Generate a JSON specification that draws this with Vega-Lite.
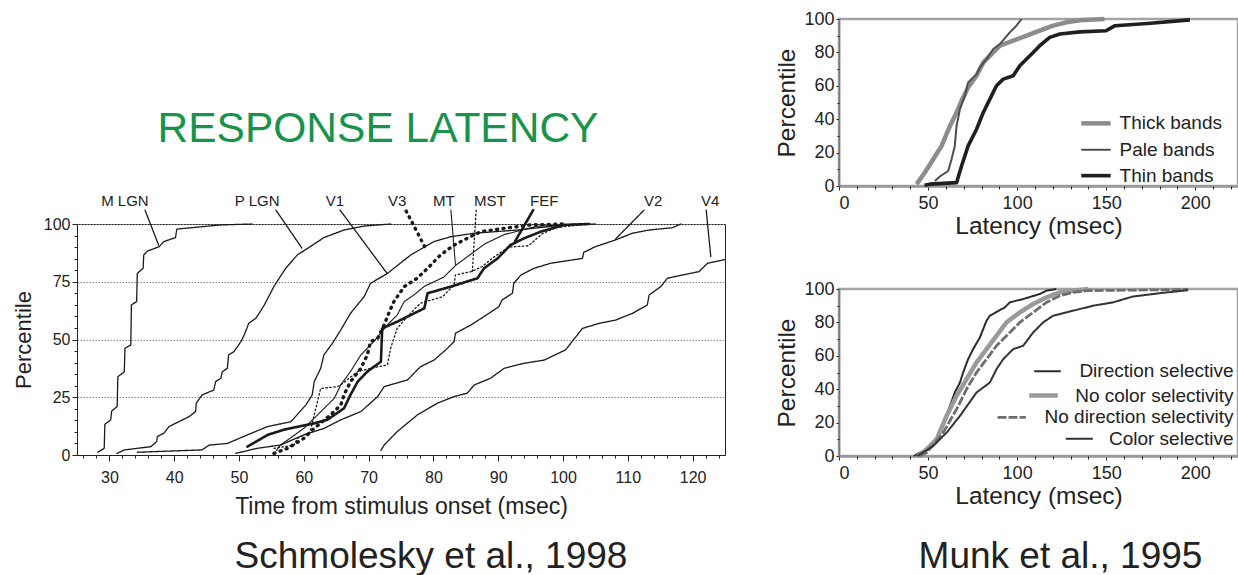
{
  "$schema": "https://vega.github.io/schema/vega-lite/v6.json",
  "background": "white",
  "padding": {"left": 11, "top": 8, "right": 0, "bottom": 0},
  "config": {
    "font": "Liberation Sans",
    "view": {"stroke": null},
    "axis": {"labelColor": "#222", "titleColor": "#222", "tickColor": "#222", "domainColor": "#222", "titleFontWeight": "normal", "labelFont": "Liberation Sans", "titleFont": "Liberation Sans"},
    "title": {"font": "Liberation Sans", "fontWeight": "normal", "color": "#222"}
  },
  "datasets": {
    "schmolesky": [
      {"area": "M LGN", "ms": 28.2, "pct": 1.2}, {"area": "M LGN", "ms": 29.2, "pct": 2.9}, {"area": "M LGN", "ms": 29.3, "pct": 13.3}, {"area": "M LGN", "ms": 30.2, "pct": 15.2}, {"area": "M LGN", "ms": 30.35, "pct": 19}, {"area": "M LGN", "ms": 31.2, "pct": 21}, {"area": "M LGN", "ms": 31.3, "pct": 33.9}, {"area": "M LGN", "ms": 32.3, "pct": 36}, {"area": "M LGN", "ms": 32.4, "pct": 46.2}, {"area": "M LGN", "ms": 33.3, "pct": 47.6}, {"area": "M LGN", "ms": 33.4, "pct": 65}, {"area": "M LGN", "ms": 34.2, "pct": 66.4}, {"area": "M LGN", "ms": 34.3, "pct": 78.6}, {"area": "M LGN", "ms": 35.2, "pct": 80.8}, {"area": "M LGN", "ms": 35.3, "pct": 86.6}, {"area": "M LGN", "ms": 35.9, "pct": 88.3}, {"area": "M LGN", "ms": 37.7, "pct": 90.2}, {"area": "M LGN", "ms": 38.4, "pct": 92.4}, {"area": "M LGN", "ms": 40.2, "pct": 94.1}, {"area": "M LGN", "ms": 40.4, "pct": 97.8}, {"area": "M LGN", "ms": 47.2, "pct": 99.6}, {"area": "M LGN", "ms": 52, "pct": 100},
      {"area": "P LGN", "ms": 31.2, "pct": 0.7}, {"area": "P LGN", "ms": 32.3, "pct": 2.2}, {"area": "P LGN", "ms": 36.4, "pct": 3.6}, {"area": "P LGN", "ms": 37.3, "pct": 5.8}, {"area": "P LGN", "ms": 37.4, "pct": 8}, {"area": "P LGN", "ms": 38.4, "pct": 9.4}, {"area": "P LGN", "ms": 39.2, "pct": 12.3}, {"area": "P LGN", "ms": 40.2, "pct": 13.7}, {"area": "P LGN", "ms": 42.3, "pct": 16.6}, {"area": "P LGN", "ms": 43.3, "pct": 18.8}, {"area": "P LGN", "ms": 43.4, "pct": 22.4}, {"area": "P LGN", "ms": 44.3, "pct": 26}, {"area": "P LGN", "ms": 46.1, "pct": 28.1}, {"area": "P LGN", "ms": 46.4, "pct": 31.8}, {"area": "P LGN", "ms": 47.2, "pct": 33.2}, {"area": "P LGN", "ms": 47.4, "pct": 36}, {"area": "P LGN", "ms": 48.2, "pct": 37.5}, {"area": "P LGN", "ms": 48.4, "pct": 43.3}, {"area": "P LGN", "ms": 49.2, "pct": 44.7}, {"area": "P LGN", "ms": 50.3, "pct": 49.1}, {"area": "P LGN", "ms": 50.8, "pct": 51.9}, {"area": "P LGN", "ms": 51.5, "pct": 57}, {"area": "P LGN", "ms": 52.6, "pct": 59.2}, {"area": "P LGN", "ms": 53.1, "pct": 61.3}, {"area": "P LGN", "ms": 53.9, "pct": 64.9}, {"area": "P LGN", "ms": 55.4, "pct": 73}, {"area": "P LGN", "ms": 57.2, "pct": 80.8}, {"area": "P LGN", "ms": 59, "pct": 86.6}, {"area": "P LGN", "ms": 61, "pct": 90.2}, {"area": "P LGN", "ms": 63.1, "pct": 94.1}, {"area": "P LGN", "ms": 66.2, "pct": 97.4}, {"area": "P LGN", "ms": 69.3, "pct": 99.1}, {"area": "P LGN", "ms": 73.4, "pct": 100},
      {"area": "V1", "ms": 34.3, "pct": 1.2}, {"area": "V1", "ms": 44.3, "pct": 2.2}, {"area": "V1", "ms": 45.4, "pct": 4.3}, {"area": "V1", "ms": 48.2, "pct": 5}, {"area": "V1", "ms": 51.3, "pct": 8.7}, {"area": "V1", "ms": 54.4, "pct": 12.3}, {"area": "V1", "ms": 58, "pct": 14.4}, {"area": "V1", "ms": 60.3, "pct": 21.6}, {"area": "V1", "ms": 61.3, "pct": 26}, {"area": "V1", "ms": 61.6, "pct": 31.7}, {"area": "V1", "ms": 62.6, "pct": 37.5}, {"area": "V1", "ms": 63.1, "pct": 43.3}, {"area": "V1", "ms": 64.4, "pct": 48.3}, {"area": "V1", "ms": 65.7, "pct": 54.1}, {"area": "V1", "ms": 67.2, "pct": 61.3}, {"area": "V1", "ms": 69.3, "pct": 68.5}, {"area": "V1", "ms": 70.3, "pct": 74.3}, {"area": "V1", "ms": 72.9, "pct": 78.6}, {"area": "V1", "ms": 76.5, "pct": 86.6}, {"area": "V1", "ms": 80.1, "pct": 92.4}, {"area": "V1", "ms": 82.7, "pct": 94.5}, {"area": "V1", "ms": 86.3, "pct": 96}, {"area": "V1", "ms": 93, "pct": 97.4}, {"area": "V1", "ms": 100.2, "pct": 99.6}, {"area": "V1", "ms": 105, "pct": 100},
      {"area": "V3", "ms": 55.4, "pct": 0.7}, {"area": "V3", "ms": 57.5, "pct": 2.9}, {"area": "V3", "ms": 60, "pct": 7.2}, {"area": "V3", "ms": 61.6, "pct": 11.5}, {"area": "V3", "ms": 64.1, "pct": 17.3}, {"area": "V3", "ms": 65.7, "pct": 21.6}, {"area": "V3", "ms": 66.2, "pct": 26}, {"area": "V3", "ms": 67.2, "pct": 31.7}, {"area": "V3", "ms": 68.8, "pct": 37.5}, {"area": "V3", "ms": 69.8, "pct": 43.3}, {"area": "V3", "ms": 70.3, "pct": 49.1}, {"area": "V3", "ms": 71.4, "pct": 50.5}, {"area": "V3", "ms": 72.4, "pct": 56.3}, {"area": "V3", "ms": 73.2, "pct": 62}, {"area": "V3", "ms": 73.9, "pct": 66.4}, {"area": "V3", "ms": 75.5, "pct": 72.9}, {"area": "V3", "ms": 77.5, "pct": 76.5}, {"area": "V3", "ms": 79.1, "pct": 80.8}, {"area": "V3", "ms": 81.1, "pct": 86.6}, {"area": "V3", "ms": 83.2, "pct": 90.9}, {"area": "V3", "ms": 85.2, "pct": 93.8}, {"area": "V3", "ms": 87.3, "pct": 96.7}, {"area": "V3", "ms": 90.9, "pct": 98.1}, {"area": "V3", "ms": 95, "pct": 99.6}, {"area": "V3", "ms": 100, "pct": 100},
      {"area": "MT", "ms": 55.8, "pct": 2}, {"area": "MT", "ms": 56.4, "pct": 4.3}, {"area": "MT", "ms": 60, "pct": 11.5}, {"area": "MT", "ms": 62.1, "pct": 17.3}, {"area": "MT", "ms": 64.7, "pct": 24.5}, {"area": "MT", "ms": 65.7, "pct": 30.3}, {"area": "MT", "ms": 67.2, "pct": 36.1}, {"area": "MT", "ms": 68.8, "pct": 43.3}, {"area": "MT", "ms": 70.8, "pct": 49.1}, {"area": "MT", "ms": 72.9, "pct": 56.3}, {"area": "MT", "ms": 74.4, "pct": 60.6}, {"area": "MT", "ms": 75.5, "pct": 66.4}, {"area": "MT", "ms": 77, "pct": 69.3}, {"area": "MT", "ms": 78.6, "pct": 73}, {"area": "MT", "ms": 81.6, "pct": 77}, {"area": "MT", "ms": 83.4, "pct": 82}, {"area": "MT", "ms": 85.8, "pct": 87}, {"area": "MT", "ms": 88, "pct": 91.5}, {"area": "MT", "ms": 91, "pct": 95.5}, {"area": "MT", "ms": 96, "pct": 99}, {"area": "MT", "ms": 102, "pct": 100},
      {"area": "MST", "ms": 55.4, "pct": 2.9}, {"area": "MST", "ms": 58.5, "pct": 4.3}, {"area": "MST", "ms": 59, "pct": 7.2}, {"area": "MST", "ms": 61, "pct": 10.1}, {"area": "MST", "ms": 61.6, "pct": 17.3}, {"area": "MST", "ms": 62.6, "pct": 28.8}, {"area": "MST", "ms": 65.2, "pct": 29.6}, {"area": "MST", "ms": 66, "pct": 31}, {"area": "MST", "ms": 68.3, "pct": 36.1}, {"area": "MST", "ms": 70.3, "pct": 37.5}, {"area": "MST", "ms": 72.9, "pct": 39}, {"area": "MST", "ms": 73.4, "pct": 46.2}, {"area": "MST", "ms": 73.9, "pct": 50.5}, {"area": "MST", "ms": 74.4, "pct": 54.8}, {"area": "MST", "ms": 76, "pct": 60}, {"area": "MST", "ms": 78, "pct": 65.7}, {"area": "MST", "ms": 81.4, "pct": 68.5}, {"area": "MST", "ms": 83.2, "pct": 73.6}, {"area": "MST", "ms": 83.4, "pct": 77.9}, {"area": "MST", "ms": 85.8, "pct": 79.4}, {"area": "MST", "ms": 87.5, "pct": 81.5}, {"area": "MST", "ms": 89, "pct": 85}, {"area": "MST", "ms": 91.6, "pct": 90}, {"area": "MST", "ms": 94.7, "pct": 90.6}, {"area": "MST", "ms": 96.8, "pct": 95.8}, {"area": "MST", "ms": 99, "pct": 98.5}, {"area": "MST", "ms": 104, "pct": 100},
      {"area": "FEF", "ms": 51.3, "pct": 3.6}, {"area": "FEF", "ms": 54.4, "pct": 8.7}, {"area": "FEF", "ms": 57, "pct": 11}, {"area": "FEF", "ms": 61.6, "pct": 13.7}, {"area": "FEF", "ms": 63.6, "pct": 15.2}, {"area": "FEF", "ms": 66.2, "pct": 20.2}, {"area": "FEF", "ms": 67.2, "pct": 26}, {"area": "FEF", "ms": 68.3, "pct": 31.7}, {"area": "FEF", "ms": 69.8, "pct": 36.1}, {"area": "FEF", "ms": 71.9, "pct": 40.4}, {"area": "FEF", "ms": 72.1, "pct": 54.8}, {"area": "FEF", "ms": 74.4, "pct": 57.7}, {"area": "FEF", "ms": 76.5, "pct": 60.6}, {"area": "FEF", "ms": 78.6, "pct": 63.5}, {"area": "FEF", "ms": 79.1, "pct": 70}, {"area": "FEF", "ms": 82.7, "pct": 72.9}, {"area": "FEF", "ms": 86.8, "pct": 76.5}, {"area": "FEF", "ms": 87.8, "pct": 80.8}, {"area": "FEF", "ms": 89.9, "pct": 85.1}, {"area": "FEF", "ms": 91.9, "pct": 90.9}, {"area": "FEF", "ms": 94, "pct": 93.8}, {"area": "FEF", "ms": 96.6, "pct": 96.7}, {"area": "FEF", "ms": 100.2, "pct": 99.6}, {"area": "FEF", "ms": 104, "pct": 100},
      {"area": "V2", "ms": 49.5, "pct": 0.7}, {"area": "V2", "ms": 52.8, "pct": 2.9}, {"area": "V2", "ms": 56.4, "pct": 4.3}, {"area": "V2", "ms": 60, "pct": 8.7}, {"area": "V2", "ms": 63.1, "pct": 11.5}, {"area": "V2", "ms": 65.7, "pct": 15.2}, {"area": "V2", "ms": 68.8, "pct": 18.8}, {"area": "V2", "ms": 71.4, "pct": 25.3}, {"area": "V2", "ms": 72.4, "pct": 29.6}, {"area": "V2", "ms": 76, "pct": 32.5}, {"area": "V2", "ms": 78, "pct": 38.2}, {"area": "V2", "ms": 80.1, "pct": 41.1}, {"area": "V2", "ms": 81.9, "pct": 45.5}, {"area": "V2", "ms": 83.2, "pct": 49.1}, {"area": "V2", "ms": 83.4, "pct": 52.7}, {"area": "V2", "ms": 85.8, "pct": 56.3}, {"area": "V2", "ms": 87.8, "pct": 59.9}, {"area": "V2", "ms": 90.1, "pct": 64.2}, {"area": "V2", "ms": 90.6, "pct": 67.1}, {"area": "V2", "ms": 92.2, "pct": 70}, {"area": "V2", "ms": 92.4, "pct": 74.3}, {"area": "V2", "ms": 93.5, "pct": 77.9}, {"area": "V2", "ms": 95.5, "pct": 80.8}, {"area": "V2", "ms": 98.1, "pct": 83}, {"area": "V2", "ms": 103, "pct": 85.1}, {"area": "V2", "ms": 103.2, "pct": 87.7}, {"area": "V2", "ms": 105, "pct": 90.2}, {"area": "V2", "ms": 108.1, "pct": 93.1}, {"area": "V2", "ms": 110.7, "pct": 96}, {"area": "V2", "ms": 113.3, "pct": 97.4}, {"area": "V2", "ms": 116.9, "pct": 98.4}, {"area": "V2", "ms": 118.2, "pct": 100},
      {"area": "V4", "ms": 71.9, "pct": 2}, {"area": "V4", "ms": 72.4, "pct": 4.3}, {"area": "V4", "ms": 74.4, "pct": 10.1}, {"area": "V4", "ms": 77.5, "pct": 17.3}, {"area": "V4", "ms": 80.6, "pct": 22.4}, {"area": "V4", "ms": 83.2, "pct": 25.3}, {"area": "V4", "ms": 85.2, "pct": 26.7}, {"area": "V4", "ms": 86.3, "pct": 30.3}, {"area": "V4", "ms": 88.8, "pct": 33.2}, {"area": "V4", "ms": 90.9, "pct": 37.5}, {"area": "V4", "ms": 94, "pct": 39.7}, {"area": "V4", "ms": 97.1, "pct": 41.1}, {"area": "V4", "ms": 100.4, "pct": 45.5}, {"area": "V4", "ms": 103, "pct": 54.8}, {"area": "V4", "ms": 105.6, "pct": 57}, {"area": "V4", "ms": 108.1, "pct": 58.4}, {"area": "V4", "ms": 110.7, "pct": 61.3}, {"area": "V4", "ms": 113, "pct": 64.9}, {"area": "V4", "ms": 113.3, "pct": 69.3}, {"area": "V4", "ms": 115.1, "pct": 72.9}, {"area": "V4", "ms": 116.1, "pct": 76.5}, {"area": "V4", "ms": 118.4, "pct": 77.9}, {"area": "V4", "ms": 121, "pct": 79.4}, {"area": "V4", "ms": 122.3, "pct": 83}, {"area": "V4", "ms": 125, "pct": 84.6}
    ],
    "schmoleskyNotes": [
      {"area": "M LGN", "lx": 32.4, "ly": 110, "ms": 35.5, "pct": 106, "ms2": 37.6, "pct2": 90.8},
      {"area": "P LGN", "lx": 52.8, "ly": 110, "ms": 55.7, "pct": 106, "ms2": 59.7, "pct2": 89.6},
      {"area": "V1", "lx": 64.8, "ly": 110, "ms": 65.6, "pct": 106, "ms2": 72.8, "pct2": 78.8},
      {"area": "V3", "lx": 74.4, "ly": 110, "ms": 75.8, "pct": 105.6, "ms2": 79, "pct2": 88.3},
      {"area": "MT", "lx": 81.6, "ly": 110, "ms": 82.7, "pct": 106, "ms2": 83.4, "pct2": 82.5},
      {"area": "MST", "lx": 88.7, "ly": 110, "ms": 86.6, "pct": 106, "ms2": 86, "pct2": 79.2},
      {"area": "FEF", "lx": 97.1, "ly": 110, "ms": 95.4, "pct": 106, "ms2": 92.6, "pct2": 92.5},
      {"area": "V2", "lx": 113.9, "ly": 110, "ms": 112.5, "pct": 106, "ms2": 108.1, "pct2": 93.5},
      {"area": "V4", "lx": 122.7, "ly": 110, "ms": 122.1, "pct": 106, "ms2": 122.8, "pct2": 86}
    ],
    "munkBands": [
      {"series": "Thick bands", "ms": 43.6, "pct": 1.1}, {"series": "Thick bands", "ms": 48.2, "pct": 8.1}, {"series": "Thick bands", "ms": 52.9, "pct": 16}, {"series": "Thick bands", "ms": 57.6, "pct": 24}, {"series": "Thick bands", "ms": 62.3, "pct": 36}, {"series": "Thick bands", "ms": 66, "pct": 44}, {"series": "Thick bands", "ms": 68.8, "pct": 51}, {"series": "Thick bands", "ms": 72.5, "pct": 59}, {"series": "Thick bands", "ms": 77.2, "pct": 66}, {"series": "Thick bands", "ms": 81, "pct": 74}, {"series": "Thick bands", "ms": 86.6, "pct": 80}, {"series": "Thick bands", "ms": 90.3, "pct": 84}, {"series": "Thick bands", "ms": 97.8, "pct": 87}, {"series": "Thick bands", "ms": 105.3, "pct": 90}, {"series": "Thick bands", "ms": 112.7, "pct": 93}, {"series": "Thick bands", "ms": 120.2, "pct": 96}, {"series": "Thick bands", "ms": 127.7, "pct": 98}, {"series": "Thick bands", "ms": 135.2, "pct": 99.2}, {"series": "Thick bands", "ms": 149, "pct": 100},
      {"series": "Pale bands", "ms": 53.8, "pct": 3}, {"series": "Pale bands", "ms": 57, "pct": 6}, {"series": "Pale bands", "ms": 61.3, "pct": 9}, {"series": "Pale bands", "ms": 63.2, "pct": 16}, {"series": "Pale bands", "ms": 65, "pct": 24}, {"series": "Pale bands", "ms": 66, "pct": 36}, {"series": "Pale bands", "ms": 67.9, "pct": 46}, {"series": "Pale bands", "ms": 70.7, "pct": 54}, {"series": "Pale bands", "ms": 72.5, "pct": 62}, {"series": "Pale bands", "ms": 77.2, "pct": 67}, {"series": "Pale bands", "ms": 79.1, "pct": 71}, {"series": "Pale bands", "ms": 82.8, "pct": 76}, {"series": "Pale bands", "ms": 86.6, "pct": 82}, {"series": "Pale bands", "ms": 90.3, "pct": 85}, {"series": "Pale bands", "ms": 95.9, "pct": 92}, {"series": "Pale bands", "ms": 99.6, "pct": 96}, {"series": "Pale bands", "ms": 102.5, "pct": 100},
      {"series": "Thin bands", "ms": 48, "pct": 0.5}, {"series": "Thin bands", "ms": 51, "pct": 1.1}, {"series": "Thin bands", "ms": 66, "pct": 2}, {"series": "Thin bands", "ms": 68.8, "pct": 12}, {"series": "Thin bands", "ms": 72.5, "pct": 24}, {"series": "Thin bands", "ms": 77.2, "pct": 34}, {"series": "Thin bands", "ms": 81, "pct": 44}, {"series": "Thin bands", "ms": 84.7, "pct": 52}, {"series": "Thin bands", "ms": 88.4, "pct": 60}, {"series": "Thin bands", "ms": 92.2, "pct": 64}, {"series": "Thin bands", "ms": 97.8, "pct": 66}, {"series": "Thin bands", "ms": 101.5, "pct": 72}, {"series": "Thin bands", "ms": 105.3, "pct": 76}, {"series": "Thin bands", "ms": 109, "pct": 80}, {"series": "Thin bands", "ms": 112.7, "pct": 84}, {"series": "Thin bands", "ms": 118.3, "pct": 89}, {"series": "Thin bands", "ms": 124, "pct": 91}, {"series": "Thin bands", "ms": 135.2, "pct": 92.3}, {"series": "Thin bands", "ms": 150, "pct": 93}, {"series": "Thin bands", "ms": 155, "pct": 96}, {"series": "Thin bands", "ms": 175, "pct": 97.5}, {"series": "Thin bands", "ms": 197, "pct": 99.5}
    ],
    "munkBandsKey": [
      {"series": "Thick bands", "ms": 136, "ms2": 152.5, "pct": 37.5, "tx": 157.5},
      {"series": "Pale bands", "ms": 136, "ms2": 152.5, "pct": 21.7, "tx": 157.5},
      {"series": "Thin bands", "ms": 136, "ms2": 152.5, "pct": 6.2, "tx": 157.5}
    ],
    "munkSel": [
      {"series": "Direction selective", "ms": 42, "pct": 0}, {"series": "Direction selective", "ms": 43.6, "pct": 1}, {"series": "Direction selective", "ms": 51, "pct": 5}, {"series": "Direction selective", "ms": 56.7, "pct": 14}, {"series": "Direction selective", "ms": 61.3, "pct": 27}, {"series": "Direction selective", "ms": 65, "pct": 38}, {"series": "Direction selective", "ms": 67.9, "pct": 44}, {"series": "Direction selective", "ms": 69.7, "pct": 50}, {"series": "Direction selective", "ms": 72.5, "pct": 58}, {"series": "Direction selective", "ms": 75.3, "pct": 64}, {"series": "Direction selective", "ms": 79.1, "pct": 71}, {"series": "Direction selective", "ms": 82.8, "pct": 81}, {"series": "Direction selective", "ms": 84.7, "pct": 84}, {"series": "Direction selective", "ms": 93.1, "pct": 89}, {"series": "Direction selective", "ms": 95.9, "pct": 92}, {"series": "Direction selective", "ms": 103.4, "pct": 94}, {"series": "Direction selective", "ms": 112.7, "pct": 97}, {"series": "Direction selective", "ms": 116.5, "pct": 99}, {"series": "Direction selective", "ms": 122, "pct": 100},
      {"series": "No color selectivity", "ms": 44, "pct": 0}, {"series": "No color selectivity", "ms": 47.3, "pct": 2}, {"series": "No color selectivity", "ms": 54.8, "pct": 10}, {"series": "No color selectivity", "ms": 60.4, "pct": 24}, {"series": "No color selectivity", "ms": 66, "pct": 36}, {"series": "No color selectivity", "ms": 71.6, "pct": 46}, {"series": "No color selectivity", "ms": 77.2, "pct": 56}, {"series": "No color selectivity", "ms": 82.8, "pct": 64}, {"series": "No color selectivity", "ms": 88.4, "pct": 72}, {"series": "No color selectivity", "ms": 94, "pct": 80}, {"series": "No color selectivity", "ms": 101.5, "pct": 86}, {"series": "No color selectivity", "ms": 109, "pct": 91}, {"series": "No color selectivity", "ms": 116.5, "pct": 95}, {"series": "No color selectivity", "ms": 124, "pct": 98}, {"series": "No color selectivity", "ms": 131.4, "pct": 99}, {"series": "No color selectivity", "ms": 140, "pct": 100},
      {"series": "No direction selectivity", "ms": 45, "pct": 0}, {"series": "No direction selectivity", "ms": 49.2, "pct": 2}, {"series": "No direction selectivity", "ms": 58.5, "pct": 14}, {"series": "No direction selectivity", "ms": 66, "pct": 28}, {"series": "No direction selectivity", "ms": 71.6, "pct": 40}, {"series": "No direction selectivity", "ms": 77.2, "pct": 50}, {"series": "No direction selectivity", "ms": 82.8, "pct": 58}, {"series": "No direction selectivity", "ms": 88.4, "pct": 66}, {"series": "No direction selectivity", "ms": 95.9, "pct": 74}, {"series": "No direction selectivity", "ms": 101.5, "pct": 80}, {"series": "No direction selectivity", "ms": 109, "pct": 86}, {"series": "No direction selectivity", "ms": 116.5, "pct": 92}, {"series": "No direction selectivity", "ms": 124, "pct": 96}, {"series": "No direction selectivity", "ms": 131.4, "pct": 98}, {"series": "No direction selectivity", "ms": 138.9, "pct": 99}, {"series": "No direction selectivity", "ms": 196, "pct": 99.7},
      {"series": "Color selective", "ms": 44, "pct": 0}, {"series": "Color selective", "ms": 45.4, "pct": 1}, {"series": "Color selective", "ms": 52.9, "pct": 6}, {"series": "Color selective", "ms": 60.4, "pct": 14}, {"series": "Color selective", "ms": 67.9, "pct": 24}, {"series": "Color selective", "ms": 77.2, "pct": 38}, {"series": "Color selective", "ms": 84.7, "pct": 44}, {"series": "Color selective", "ms": 88.4, "pct": 52}, {"series": "Color selective", "ms": 92.2, "pct": 58}, {"series": "Color selective", "ms": 97.8, "pct": 64}, {"series": "Color selective", "ms": 103.4, "pct": 66}, {"series": "Color selective", "ms": 109, "pct": 74}, {"series": "Color selective", "ms": 114.6, "pct": 80}, {"series": "Color selective", "ms": 120.2, "pct": 84}, {"series": "Color selective", "ms": 127.7, "pct": 86}, {"series": "Color selective", "ms": 135.2, "pct": 88}, {"series": "Color selective", "ms": 142.6, "pct": 90}, {"series": "Color selective", "ms": 153.9, "pct": 92}, {"series": "Color selective", "ms": 165, "pct": 95.5}, {"series": "Color selective", "ms": 180, "pct": 97.5}, {"series": "Color selective", "ms": 196, "pct": 99.3}
    ],
    "munkSelKey": [
      {"series": "Direction selective", "ms": 109.6, "ms2": 124.5, "pct": 50.7, "tx": 221.5},
      {"series": "No color selectivity", "ms": 106.8, "ms2": 122.8, "pct": 36.2, "tx": 221.5},
      {"series": "No direction selectivity", "ms": 89, "ms2": 104.9, "pct": 23.1, "tx": 221.5},
      {"series": "Color selective", "ms": 127.3, "ms2": 142.5, "pct": 10.3, "tx": 221.5}
    ]
  },
  "resolve": {"scale": {"stroke": "independent", "strokeWidth": "independent", "strokeDash": "independent"}},
  "hconcat": [
    {
      "title": {"text": "Schmolesky et al., 1998", "orient": "bottom", "fontSize": 37, "offset": 20, "dx": 62, "anchor": "middle", "color": "#222"},
      "bounds": "flush",
      "spacing": 204,
      "vconcat": [
        {
          "width": 648,
          "height": 1,
          "data": {"values": [{}]},
          "mark": {"type": "point", "opacity": 0},
          "encoding": {}
        },
        {
          "width": 648,
          "height": 231,
          "title": {"text": "RESPONSE LATENCY", "color": "#17934b", "fontSize": 42.5, "anchor": "middle", "frame": "group", "dx": -23, "offset": 9, "baseline": "alphabetic"},
          "view": {"stroke": "#222", "strokeWidth": 1},
          "resolve": {"axis": {"x": "independent", "y": "independent"}},
          "layer": [
            {
              "data": {"name": "schmolesky"},
              "mark": {"type": "line", "color": "#1a1a1a", "strokeCap": "round", "strokeJoin": "round"},
              "encoding": {
                "x": {"field": "ms", "type": "quantitative", "scale": {"domain": [25, 125], "nice": false, "zero": false},
                  "axis": {"orient": "bottom", "values": [30, 40, 50, 60, 70, 80, 90, 100, 110, 120], "tickSize": 6, "labelFontSize": 16, "labelPadding": 8, "title": "Time from stimulus onset (msec)", "titleFontSize": 23, "titlePadding": 10, "grid": false, "domainColor": "#222"}},
                "y": {"field": "pct", "type": "quantitative", "scale": {"domain": [0, 100], "nice": false},
                  "axis": {"orient": "left", "values": [0, 25, 50, 75, 100], "tickSize": 5, "labelFontSize": 16, "labelPadding": 2, "title": "Percentile", "titleFontSize": 22, "titlePadding": 8, "grid": true, "gridDash": [1.5, 1.5], "gridColor": "#888", "gridWidth": 1}},
                "detail": {"field": "area"},
                "strokeWidth": {"field": "area", "type": "nominal", "legend": null,
                  "scale": {"type": "ordinal", "domain": ["M LGN", "P LGN", "V1", "V3", "MT", "MST", "FEF", "V2", "V4"], "range": [1.3, 1.3, 1.3, 3.4, 1.1, 1.3, 2.6, 1.3, 1.3]}},
                "strokeDash": {"field": "area", "type": "nominal", "legend": null,
                  "scale": {"type": "ordinal", "domain": ["M LGN", "P LGN", "V1", "V3", "MT", "MST", "FEF", "V2", "V4"], "range": [[1, 0], [1, 0], [1, 0], [1, 5.5], [1, 0], [1.5, 2.5], [1, 0], [1, 0], [1, 0]]}}
              }
            },
            {
              "data": {"name": "schmoleskyNotes"},
              "mark": {"type": "rule", "color": "#1a1a1a", "strokeCap": "round"},
              "encoding": {
                "x": {"field": "ms", "type": "quantitative",
                  "axis": {"orient": "bottom", "values": [26, 28, 32, 34, 36, 38, 42, 44, 46, 48, 52, 54, 56, 58, 62, 64, 66, 68, 72, 74, 76, 78, 82, 84, 86, 88, 92, 94, 96, 98, 102, 104, 106, 108, 112, 114, 116, 118, 122, 124], "labels": false, "domain": false, "tickSize": 3, "title": null, "grid": false}},
                "x2": {"field": "ms2"},
                "y": {"field": "pct", "type": "quantitative",
                  "axis": {"orient": "left", "values": [5, 10, 15, 20, 30, 35, 40, 45, 55, 60, 65, 70, 80, 85, 90, 95], "labels": false, "domain": false, "tickSize": 3, "title": null, "grid": false}},
                "y2": {"field": "pct2"},
                "strokeWidth": {"field": "area", "type": "nominal", "legend": null,
                  "scale": {"type": "ordinal", "domain": ["M LGN", "P LGN", "V1", "V3", "MT", "MST", "FEF", "V2", "V4"], "range": [1.3, 1.3, 1.3, 3.4, 1.1, 1.3, 2.6, 1.3, 1.3]}},
                "strokeDash": {"field": "area", "type": "nominal", "legend": null,
                  "scale": {"type": "ordinal", "domain": ["M LGN", "P LGN", "V1", "V3", "MT", "MST", "FEF", "V2", "V4"], "range": [[1, 0], [1, 0], [1, 0], [1, 5.5], [1, 0], [1.5, 2.5], [1, 0], [1, 0], [1, 0]]}}
              }
            },
            {
              "data": {"name": "schmoleskyNotes"},
              "mark": {"type": "text", "fontSize": 15, "color": "#222", "baseline": "middle"},
              "encoding": {
                "x": {"field": "lx", "type": "quantitative", "axis": null},
                "y": {"field": "ly", "type": "quantitative", "axis": null},
                "text": {"field": "area"}
              }
            }
          ]
        }
      ]
    },
    {
      "title": {"text": "Munk et al., 1995", "orient": "bottom", "fontSize": 37, "offset": 30, "dx": 54, "anchor": "middle", "color": "#222"},
      "bounds": "flush",
      "spacing": 103,
      "resolve": {"scale": {"stroke": "independent", "strokeWidth": "independent", "strokeDash": "independent"}},
      "vconcat": [
        {
          "width": 399,
          "height": 167,
          "view": {"stroke": "#a3a3a3", "strokeWidth": 2.5},
          "resolve": {"axis": {"x": "independent", "y": "independent"}},
          "layer": [
            {
              "data": {"name": "munkBands"},
              "mark": {"type": "line", "strokeJoin": "round"},
              "encoding": {
                "x": {"field": "ms", "type": "quantitative", "scale": {"domain": [0, 224], "nice": false},
                  "axis": {"orient": "bottom", "values": [0, 50, 100, 150, 200], "tickSize": 4, "labelFontSize": 18, "labelPadding": 4, "title": "Latency (msec)", "titleFontSize": 24.5, "titlePadding": 2, "grid": false, "domainColor": "#999", "domainWidth": 2.5}},
                "y": {"field": "pct", "type": "quantitative", "scale": {"domain": [0, 100], "nice": false},
                  "axis": {"orient": "left", "values": [0, 20, 40, 60, 80, 100], "tickSize": 3, "labelFontSize": 18, "labelPadding": 2, "title": "Percentile", "titleFontSize": 24.5, "titlePadding": 4, "grid": false, "domainColor": "#777", "domainWidth": 1.5}},
                "stroke": {"field": "series", "type": "nominal", "legend": null,
                  "scale": {"type": "ordinal", "domain": ["Thick bands", "Pale bands", "Thin bands"], "range": ["#8c8c8c", "#4d4d4d", "#1f1f1f"]}},
                "strokeWidth": {"field": "series", "type": "nominal", "legend": null,
                  "scale": {"type": "ordinal", "domain": ["Thick bands", "Pale bands", "Thin bands"], "range": [4.5, 2, 3.6]}}
              }
            },
            {
              "data": {"name": "munkBandsKey"},
              "mark": {"type": "rule"},
              "encoding": {
                "x": {"field": "ms", "type": "quantitative",
                  "axis": {"orient": "bottom", "values": [10, 20, 30, 40, 60, 70, 80, 90, 110, 120, 130, 140, 160, 170, 180, 190, 210, 220], "labels": false, "domain": false, "tickSize": 3, "title": null, "grid": false}},
                "x2": {"field": "ms2"},
                "y": {"field": "pct", "type": "quantitative",
                  "axis": {"orient": "left", "values": [10, 30, 50, 70, 90], "labels": false, "domain": false, "tickSize": 2, "title": null, "grid": false}},
                "stroke": {"field": "series", "type": "nominal", "legend": null,
                  "scale": {"type": "ordinal", "domain": ["Thick bands", "Pale bands", "Thin bands"], "range": ["#8c8c8c", "#4d4d4d", "#1f1f1f"]}},
                "strokeWidth": {"field": "series", "type": "nominal", "legend": null,
                  "scale": {"type": "ordinal", "domain": ["Thick bands", "Pale bands", "Thin bands"], "range": [4.5, 2, 3.6]}}
              }
            },
            {
              "data": {"name": "munkBandsKey"},
              "mark": {"type": "text", "fontSize": 19, "align": "left", "baseline": "middle", "color": "#222"},
              "encoding": {
                "x": {"field": "tx", "type": "quantitative", "axis": null},
                "y": {"field": "pct", "type": "quantitative", "axis": null},
                "text": {"field": "series"}
              }
            }
          ]
        },
        {
          "width": 399,
          "height": 167,
          "view": {"stroke": "#a3a3a3", "strokeWidth": 2.5},
          "resolve": {"axis": {"x": "independent", "y": "independent"}},
          "layer": [
            {
              "data": {"name": "munkSel"},
              "mark": {"type": "line", "strokeJoin": "round"},
              "encoding": {
                "x": {"field": "ms", "type": "quantitative", "scale": {"domain": [0, 224], "nice": false},
                  "axis": {"orient": "bottom", "values": [0, 50, 100, 150, 200], "tickSize": 4, "labelFontSize": 18, "labelPadding": 4, "title": "Latency (msec)", "titleFontSize": 24.5, "titlePadding": 2, "grid": false, "domainColor": "#999", "domainWidth": 2.5}},
                "y": {"field": "pct", "type": "quantitative", "scale": {"domain": [0, 100], "nice": false},
                  "axis": {"orient": "left", "values": [0, 20, 40, 60, 80, 100], "tickSize": 3, "labelFontSize": 18, "labelPadding": 2, "title": "Percentile", "titleFontSize": 24.5, "titlePadding": 4, "grid": false, "domainColor": "#777", "domainWidth": 1.5}},
                "stroke": {"field": "series", "type": "nominal", "legend": null,
                  "scale": {"type": "ordinal", "domain": ["Direction selective", "No color selectivity", "No direction selectivity", "Color selective"], "range": ["#2a2a2a", "#9a9a9a", "#6e6e6e", "#333333"]}},
                "strokeWidth": {"field": "series", "type": "nominal", "legend": null,
                  "scale": {"type": "ordinal", "domain": ["Direction selective", "No color selectivity", "No direction selectivity", "Color selective"], "range": [2, 4.5, 2.8, 2]}},
                "strokeDash": {"field": "series", "type": "nominal", "legend": null,
                  "scale": {"type": "ordinal", "domain": ["Direction selective", "No color selectivity", "No direction selectivity", "Color selective"], "range": [[1, 0], [1, 0], [9, 2], [1, 0]]}}
              }
            },
            {
              "data": {"name": "munkSelKey"},
              "mark": {"type": "rule"},
              "encoding": {
                "x": {"field": "ms", "type": "quantitative",
                  "axis": {"orient": "bottom", "values": [10, 20, 30, 40, 60, 70, 80, 90, 110, 120, 130, 140, 160, 170, 180, 190, 210, 220], "labels": false, "domain": false, "tickSize": 3, "title": null, "grid": false}},
                "x2": {"field": "ms2"},
                "y": {"field": "pct", "type": "quantitative",
                  "axis": {"orient": "left", "values": [10, 30, 50, 70, 90], "labels": false, "domain": false, "tickSize": 2, "title": null, "grid": false}},
                "stroke": {"field": "series", "type": "nominal", "legend": null,
                  "scale": {"type": "ordinal", "domain": ["Direction selective", "No color selectivity", "No direction selectivity", "Color selective"], "range": ["#2a2a2a", "#9a9a9a", "#6e6e6e", "#333333"]}},
                "strokeWidth": {"field": "series", "type": "nominal", "legend": null,
                  "scale": {"type": "ordinal", "domain": ["Direction selective", "No color selectivity", "No direction selectivity", "Color selective"], "range": [2, 4.5, 2.8, 2]}},
                "strokeDash": {"field": "series", "type": "nominal", "legend": null,
                  "scale": {"type": "ordinal", "domain": ["Direction selective", "No color selectivity", "No direction selectivity", "Color selective"], "range": [[1, 0], [1, 0], [9, 2], [1, 0]]}}
              }
            },
            {
              "data": {"name": "munkSelKey"},
              "mark": {"type": "text", "fontSize": 19, "align": "right", "baseline": "middle", "color": "#222"},
              "encoding": {
                "x": {"field": "tx", "type": "quantitative", "axis": null},
                "y": {"field": "pct", "type": "quantitative", "axis": null},
                "text": {"field": "series"}
              }
            }
          ]
        }
      ]
    }
  ],
  "spacing": 46,
  "bounds": "full"
}
